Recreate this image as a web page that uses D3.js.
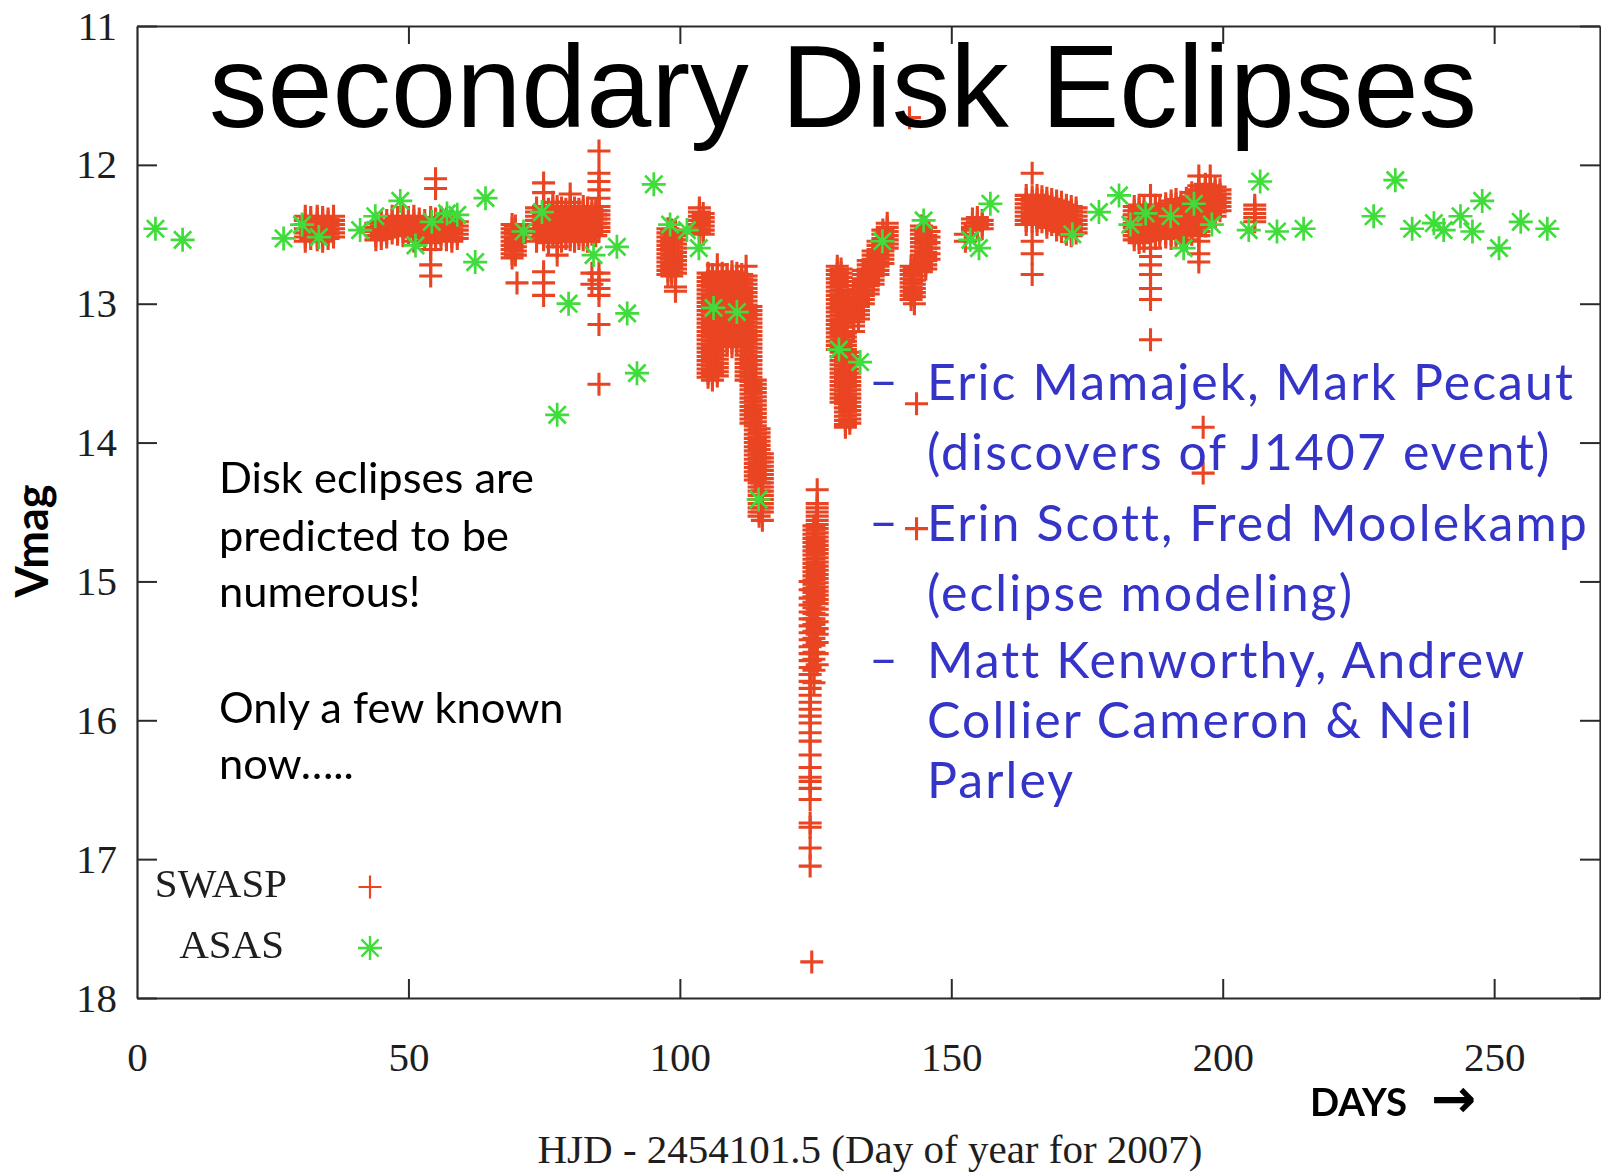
<!DOCTYPE html>
<html>
<head>
<meta charset="utf-8">
<script src="https://cdn.jsdelivr.net/npm/d3@7"></script>
<style>
  html, body { margin: 0; padding: 0; background: #fff; }
  svg { display: block; }
</style>
</head>
<body>
<svg id="chart" width="1601" height="1172"></svg>
<script>
// ---- axis ticks ----
const xTicks = [0, 50, 100, 150, 200, 250];
const yTicks = [11, 12, 13, 14, 15, 16, 17, 18];

// ---- ASAS photometry (day, V magnitude) ----
const asasDay = [3.4, 8.4, 27.0, 30.4, 33.5, 41.1, 43.9, 48.5, 51.3, 54.3, 57.1, 59.0, 62.3, 64.2,
  71.2, 74.6, 77.4, 79.5, 84.1, 88.4, 90.3, 92.1, 95.2, 98.2, 101.3, 103.5, 106.2, 110.5, 114.5,
  129.3, 133.2, 137.3, 144.9, 153.5, 155.1, 157.2, 172.3, 177.2, 180.9, 183.0, 185.8, 190.4,
  192.8, 194.7, 198.0, 204.8, 206.9, 210.0, 214.9, 227.8, 231.8, 234.9, 238.9, 240.7, 243.8,
  246.0, 247.8, 250.9, 254.9, 259.8];
const asasMag = [12.46, 12.54, 12.53, 12.43, 12.52, 12.47, 12.37, 12.26, 12.58, 12.41, 12.35, 12.36, 12.70, 12.24,
  12.48, 12.34, 13.80, 13.00, 12.65, 12.59, 13.07, 13.50, 12.14, 12.43, 12.47, 12.60, 13.03, 13.06, 14.41,
  13.33, 13.42, 12.55, 12.40, 12.54, 12.60, 12.28, 12.50, 12.34, 12.22, 12.43, 12.35, 12.37,
  12.60, 12.28, 12.43, 12.47, 12.12, 12.48, 12.46, 12.37, 12.11, 12.46, 12.42, 12.47, 12.37,
  12.48, 12.26, 12.60, 12.41, 12.46];

// ---- SWASP photometry: night (day) and the magnitudes measured that night ----
const swaspNight = [
  31.0, 32.0, 33.2, 34.2, 35.2, 36.2,
  44.0, 45.0, 46.0, 47.0, 48.0, 49.0, 50.0, 51.0, 52.0, 53.0, 54.1, 55.0, 56.0, 57.0, 58.0, 59.0,
  69.1, 69.7, 70.0,
  73.6, 74.9, 75.8, 76.6, 77.4, 78.2, 79.0, 79.8, 80.6, 81.4, 82.2, 83.0, 83.8, 84.5, 85.1,
  97.8, 98.5, 99.2, 103.6, 104.3,
  105.2, 106.0, 106.9, 107.8, 108.7, 109.6, 110.5, 111.4, 112.2, 113.1, 113.9, 114.6, 115.2,
  124.0, 124.3, 124.7, 125.3,
  129.0, 129.7, 130.5, 131.3,
  132.0, 132.9, 133.8, 134.7, 135.6, 136.5, 137.4, 138.2,
  142.3, 142.6, 143.2, 143.6, 144.5, 145.3, 145.9,
  152.6, 153.9, 154.8, 155.7,
  163.8, 164.9, 165.8, 166.7, 167.6, 168.5, 169.4, 170.3, 171.2, 172.1, 173.0,
  183.7, 184.6, 185.5, 186.7, 187.6, 188.4, 189.5, 190.5, 191.4, 192.3, 193.3, 194.3,
  195.6, 196.4, 196.8, 197.7, 198.6, 199.5,
  205.9
];
const swaspMag = [
  [12.37, 12.40, 12.43, 12.46, 12.49, 12.52, 12.55],
  [12.38, 12.41, 12.44, 12.47, 12.50, 12.53],
  [12.37, 12.39, 12.42, 12.45, 12.48, 12.51, 12.54],
  [12.38, 12.40, 12.43, 12.46, 12.49, 12.52, 12.55],
  [12.39, 12.41, 12.44, 12.47, 12.50, 12.53],
  [12.37, 12.40, 12.43, 12.46, 12.49, 12.52],

  [12.42, 12.45, 12.48, 12.51, 12.54],
  [12.41, 12.44, 12.47, 12.50, 12.53],
  [12.40, 12.43, 12.46, 12.49, 12.52],
  [12.37, 12.40, 12.43, 12.46, 12.49],
  [12.38, 12.41, 12.44, 12.47, 12.50],
  [12.37, 12.39, 12.42, 12.45, 12.48, 12.51],
  [12.38, 12.41, 12.44, 12.47, 12.50],
  [12.37, 12.40, 12.43, 12.46, 12.49, 12.52, 12.55],
  [12.39, 12.42, 12.45, 12.48, 12.51],
  [12.40, 12.43, 12.46, 12.49, 12.52],
  [12.38, 12.41, 12.44, 12.47, 12.50, 12.53, 12.56, 12.61, 12.72, 12.80],
  [12.10, 12.17, 12.39, 12.42, 12.45, 12.48, 12.51, 12.54],
  [12.38, 12.41, 12.44, 12.47, 12.50, 12.53],
  [12.39, 12.42, 12.45, 12.48, 12.51, 12.54],
  [12.40, 12.43, 12.46, 12.49, 12.52, 12.55],
  [12.41, 12.44, 12.47, 12.50, 12.53],

  [12.43, 12.46, 12.49, 12.52, 12.55, 12.58, 12.61, 12.64, 12.67],
  [12.44, 12.47, 12.50, 12.53, 12.56, 12.59, 12.62, 12.65],
  [12.85],

  [12.31, 12.34, 12.37, 12.40, 12.43, 12.46, 12.49, 12.52, 12.55],
  [12.13, 12.20, 12.30, 12.33, 12.36, 12.39, 12.42, 12.45, 12.48, 12.51, 12.54, 12.77, 12.85, 12.94],
  [12.32, 12.35, 12.38, 12.41, 12.44, 12.47, 12.50, 12.53, 12.56],
  [12.27, 12.31, 12.34, 12.37, 12.40, 12.43, 12.46, 12.49, 12.52],
  [12.30, 12.33, 12.36, 12.39, 12.42, 12.45, 12.48, 12.51, 12.54, 12.59, 12.65],
  [12.31, 12.34, 12.37, 12.40, 12.43, 12.46, 12.49, 12.52, 12.55],
  [12.32, 12.35, 12.38, 12.41, 12.44, 12.47, 12.50, 12.53],
  [12.21, 12.27, 12.30, 12.33, 12.36, 12.39, 12.42, 12.45, 12.48, 12.51, 12.54],
  [12.31, 12.34, 12.37, 12.40, 12.43, 12.46, 12.49, 12.52, 12.55],
  [12.32, 12.35, 12.38, 12.41, 12.44, 12.47, 12.50, 12.53],
  [12.30, 12.33, 12.36, 12.39, 12.42, 12.45, 12.48, 12.51, 12.54],
  [12.31, 12.34, 12.37, 12.40, 12.43, 12.46, 12.49, 12.52, 12.55],
  [12.32, 12.35, 12.38, 12.41, 12.44, 12.47, 12.50, 12.78, 12.86],
  [12.33, 12.36, 12.39, 12.42, 12.45, 12.48, 12.51],
  [11.90, 12.06, 12.12, 12.18, 12.24, 12.30, 12.33, 12.36, 12.39, 12.42, 12.45, 12.48, 12.78, 12.83, 12.89, 12.94, 13.15, 13.58],

  [12.46, 12.49, 12.52, 12.55, 12.58, 12.61, 12.64, 12.67, 12.70, 12.73, 12.76, 12.79],
  [12.47, 12.50, 12.53, 12.56, 12.59, 12.62, 12.65, 12.68, 12.71, 12.74, 12.77, 12.80],
  [12.48, 12.51, 12.54, 12.57, 12.60, 12.63, 12.66, 12.69, 12.72, 12.75, 12.78, 12.88, 12.91],
  [12.31, 12.34, 12.37, 12.40, 12.43, 12.46, 12.49],
  [12.35, 12.38, 12.41, 12.44, 12.47, 12.50],

  [12.78, 12.81, 12.84, 12.87, 12.90, 12.93, 12.96, 12.99, 13.02, 13.05, 13.08, 13.11, 13.14, 13.17, 13.20, 13.23, 13.26, 13.29, 13.32, 13.35, 13.38, 13.41, 13.44, 13.47, 13.50, 13.53],
  [12.79, 12.82, 12.85, 12.88, 12.91, 12.94, 12.97, 13.00, 13.03, 13.06, 13.09, 13.12, 13.15, 13.18, 13.21, 13.24, 13.27, 13.30, 13.33, 13.36, 13.39, 13.42, 13.45, 13.48, 13.51, 13.55],
  [12.72, 12.77, 12.80, 12.83, 12.86, 12.89, 12.92, 12.95, 12.98, 13.01, 13.04, 13.07, 13.10, 13.13, 13.16, 13.19, 13.22, 13.25, 13.28, 13.31, 13.34, 13.37, 13.40, 13.43, 13.46, 13.49, 13.52],
  [12.78, 12.81, 12.84, 12.87, 12.90, 12.93, 12.96, 12.99, 13.02, 13.05, 13.08, 13.11, 13.14, 13.17, 13.20, 13.23, 13.26, 13.29],
  [12.79, 12.82, 12.85, 12.88, 12.91, 12.94, 12.97, 13.00, 13.03, 13.06, 13.09, 13.12, 13.15, 13.18, 13.21, 13.24, 13.27, 13.30],
  [12.77, 12.80, 12.83, 12.86, 12.89, 12.92, 12.95, 12.98, 13.01, 13.04, 13.07, 13.10, 13.13, 13.16, 13.19, 13.22, 13.25, 13.28, 13.31],
  [12.78, 12.81, 12.84, 12.87, 12.90, 12.93, 12.96, 12.99, 13.02, 13.05, 13.08, 13.11, 13.14, 13.17, 13.20, 13.23, 13.26, 13.29],
  [12.79, 12.82, 12.85, 12.88, 12.91, 12.94, 12.97, 13.00, 13.03, 13.06, 13.09, 13.12, 13.15, 13.18, 13.21, 13.24, 13.27, 13.30],
  [12.73, 12.80, 12.83, 12.86, 12.89, 12.92, 12.95, 12.98, 13.01, 13.04, 13.07, 13.10, 13.13, 13.16, 13.19, 13.22, 13.25, 13.28, 13.31, 13.34, 13.37, 13.40, 13.43, 13.46, 13.49, 13.52, 13.55],
  [13.02, 13.05, 13.08, 13.11, 13.14, 13.17, 13.20, 13.23, 13.26, 13.29, 13.32, 13.35, 13.38, 13.41, 13.44, 13.47, 13.50, 13.53, 13.56, 13.59, 13.62, 13.65, 13.68, 13.71, 13.74, 13.77, 13.80, 13.83, 13.86],
  [13.55, 13.58, 13.61, 13.64, 13.67, 13.70, 13.73, 13.76, 13.79, 13.82, 13.85, 13.88, 13.91, 13.94, 13.97, 14.00, 14.03, 14.06, 14.09, 14.12, 14.15, 14.18, 14.21, 14.24, 14.27],
  [13.90, 13.93, 13.96, 13.99, 14.02, 14.05, 14.08, 14.11, 14.14, 14.17, 14.20, 14.23, 14.26, 14.29, 14.32, 14.35, 14.38, 14.41, 14.44, 14.47, 14.50, 14.53],
  [14.08, 14.11, 14.14, 14.17, 14.20, 14.23, 14.26, 14.29, 14.32, 14.35, 14.38, 14.41, 14.44, 14.47, 14.50, 14.56],

  [15.00, 15.06, 15.12, 15.17, 15.22, 15.27, 15.32, 15.37, 15.42, 15.47, 15.52, 15.57, 15.62, 15.67, 15.72, 15.77, 15.82, 15.87, 15.92, 15.97, 16.02, 16.09, 16.15, 16.25, 16.34, 16.41, 16.44, 16.49, 16.57, 16.74, 16.77, 16.92, 17.05],
  [17.74],
  [14.60, 14.63, 14.66, 14.69, 14.72, 14.75, 14.78, 14.81, 14.84, 14.87, 14.90, 14.93, 14.96, 14.99, 15.02, 15.05, 15.08, 15.11, 15.15, 15.19, 15.23, 15.27, 15.31, 15.36, 15.41, 15.46, 15.51, 15.56, 15.64, 15.73],
  [14.34, 14.44, 14.47, 14.50, 14.53, 14.56, 14.59, 14.62, 14.65, 14.68, 14.71, 14.74, 14.77, 14.80, 14.83, 14.86, 14.89, 14.92, 14.95, 14.98, 15.01, 15.04, 15.07, 15.10, 15.13, 15.16, 15.20, 15.24, 15.29, 15.34, 15.38, 15.44, 15.52, 15.60],

  [12.73, 12.76, 12.79, 12.82, 12.85, 12.88, 12.91, 12.94, 12.97, 13.00, 13.03, 13.06, 13.09, 13.12, 13.15, 13.18, 13.21, 13.24, 13.27, 13.30, 13.33],
  [12.75, 12.78, 12.81, 12.84, 12.87, 12.90, 12.93, 12.96, 12.99, 13.02, 13.05, 13.08, 13.11, 13.14, 13.17, 13.20, 13.23, 13.26, 13.29, 13.32, 13.35, 13.38, 13.41, 13.44, 13.47, 13.50, 13.53, 13.56, 13.59, 13.62, 13.65, 13.68, 13.71],
  [13.21, 13.24, 13.27, 13.30, 13.33, 13.36, 13.39, 13.42, 13.45, 13.48, 13.51, 13.54, 13.57, 13.60, 13.63, 13.66, 13.69, 13.72, 13.75, 13.78, 13.81, 13.84, 13.87, 13.89],
  [13.35, 13.38, 13.41, 13.44, 13.47, 13.50, 13.53, 13.56, 13.59, 13.62, 13.65, 13.68, 13.71, 13.74, 13.77, 13.80, 13.83, 13.86],

  [12.92, 12.95, 12.98, 13.01, 13.04, 13.07, 13.10, 13.13, 13.16, 13.20],
  [12.84, 12.87, 12.90, 12.93, 12.96, 12.99, 13.02, 13.05, 13.08, 13.11],
  [12.76, 12.79, 12.82, 12.85, 12.88, 12.91, 12.94, 12.97, 13.00],
  [12.69, 12.72, 12.75, 12.78, 12.81, 12.84, 12.87, 12.90, 12.93],
  [12.62, 12.65, 12.68, 12.71, 12.74, 12.77, 12.80, 12.83, 12.86],
  [12.55, 12.58, 12.61, 12.64, 12.67, 12.70, 12.73, 12.76, 12.79],
  [12.47, 12.50, 12.53, 12.56, 12.59, 12.62, 12.65, 12.68, 12.71],
  [12.42, 12.45, 12.48, 12.51, 12.54, 12.57, 12.60],

  [11.66],
  [12.73, 12.76, 12.79, 12.82, 12.85, 12.88, 12.91, 12.94, 12.97],
  [12.74, 12.77, 12.80, 12.83, 12.86, 12.89, 12.92, 12.95, 13.00],
  [13.72, 14.62],
  [12.44, 12.47, 12.50, 12.53, 12.56, 12.59, 12.62, 12.65, 12.68, 12.71, 12.74, 12.77],
  [12.45, 12.48, 12.51, 12.54, 12.57, 12.60, 12.63, 12.66, 12.69, 12.72, 12.75],
  [12.48, 12.52, 12.56, 12.60, 12.64, 12.68],

  [12.50, 12.55],
  [12.39, 12.42, 12.45, 12.47],
  [12.38, 12.41, 12.44, 12.46],
  [12.40, 12.43, 12.46],

  [12.22, 12.25, 12.28, 12.31, 12.34, 12.37, 12.40, 12.43],
  [12.06, 12.23, 12.26, 12.29, 12.32, 12.35, 12.38, 12.41, 12.55, 12.64, 12.79],
  [12.22, 12.25, 12.28, 12.31, 12.34, 12.37, 12.40, 12.43],
  [12.23, 12.26, 12.29, 12.32, 12.35, 12.38, 12.41],
  [12.24, 12.27, 12.30, 12.33, 12.36, 12.39, 12.42, 12.45],
  [12.25, 12.28, 12.31, 12.34, 12.37, 12.40, 12.43],
  [12.26, 12.29, 12.32, 12.35, 12.38, 12.41, 12.44, 12.47],
  [12.27, 12.30, 12.33, 12.36, 12.39, 12.42, 12.45, 12.48],
  [12.29, 12.32, 12.35, 12.38, 12.41, 12.44, 12.47, 12.50],
  [12.30, 12.33, 12.36, 12.39, 12.42, 12.45, 12.48, 12.51],
  [12.31, 12.34, 12.37, 12.40, 12.43, 12.46, 12.49],

  [12.30, 12.33, 12.36, 12.39, 12.42, 12.45, 12.48, 12.51, 12.54],
  [12.29, 12.32, 12.35, 12.38, 12.41, 12.44, 12.47, 12.50, 12.53, 12.56],
  [12.31, 12.34, 12.37, 12.40, 12.43, 12.46, 12.49, 12.52, 12.55],
  [12.22, 12.30, 12.33, 12.36, 12.39, 12.42, 12.45, 12.48, 12.51, 12.54, 12.60, 12.66, 12.72, 12.79, 12.89, 12.97, 13.26],
  [12.29, 12.32, 12.35, 12.38, 12.41, 12.44, 12.47, 12.50, 12.53],
  [12.31, 12.34, 12.37, 12.40, 12.43, 12.46, 12.49, 12.52],
  [12.28, 12.31, 12.34, 12.37, 12.40, 12.43, 12.46, 12.49, 12.52],
  [12.26, 12.29, 12.32, 12.35, 12.38, 12.41, 12.44, 12.47, 12.50, 12.53],
  [12.25, 12.28, 12.31, 12.34, 12.37, 12.40, 12.43, 12.46, 12.49, 12.52],
  [12.27, 12.30, 12.33, 12.36, 12.39, 12.42, 12.45, 12.48, 12.51],
  [12.24, 12.27, 12.30, 12.33, 12.36, 12.39, 12.42, 12.45, 12.48, 12.51, 12.54],
  [12.20, 12.23, 12.26, 12.29, 12.32, 12.35, 12.38, 12.41, 12.44, 12.47, 12.50],
  [12.08, 12.15, 12.18, 12.21, 12.24, 12.27, 12.30, 12.33, 12.36, 12.39, 12.42, 12.45, 12.48, 12.51, 12.55, 12.64, 12.70],
  [13.89, 14.22],
  [12.14, 12.17, 12.20, 12.23, 12.26, 12.29, 12.32, 12.35, 12.38, 12.41, 12.44],
  [12.08, 12.15, 12.18, 12.21, 12.24, 12.27, 12.30, 12.33, 12.36],
  [12.16, 12.19, 12.22, 12.25, 12.28, 12.31, 12.34, 12.37],
  [12.18, 12.21, 12.24, 12.27, 12.30, 12.33],

  [12.29, 12.32, 12.35, 12.38, 12.41]
];

// ---- slide text ----
const titleText = "secondary Disk Eclipses";
const noteLines = ["Disk eclipses are", "predicted to be", "numerous!", "", "Only a few known", "now….."];
const creditLines = [
  { dash: true,  text: "Eric Mamajek, Mark Pecaut" },
  { dash: false, text: "(discovers of J1407 event)" },
  { dash: true,  text: "Erin Scott, Fred Moolekamp" },
  { dash: false, text: "(eclipse modeling)" },
  { dash: true,  text: "Matt Kenworthy,  Andrew" },
  { dash: false, text: "Collier Cameron & Neil" },
  { dash: false, text: "Parley" }
];
const seriesNames = ["SWASP", "ASAS"];

// ---- scales ----
const svg = d3.select("#chart");
const x = d3.scaleLinear().domain([0, 269.5]).range([137, 1600]);
const y = d3.scaleLinear().domain([11, 18]).range([26, 998]);

const RED = "#ea4421";
const GREEN = "#3fdc3a";
const BLUE = "#3434c8";
const SERIF = "'Liberation Serif', 'Times New Roman', serif";
const SANS = "Lato, 'Open Sans', sans-serif";

// soft edge for the photometry marks
const defs = svg.append("defs");
defs.append("filter").attr("id", "soft").attr("x", "-5%").attr("y", "-5%").attr("width", "110%").attr("height", "110%")
  .append("feGaussianBlur").attr("stdDeviation", 0.7);

// ---- marker symbols (gnuplot-style '+' and '*') ----
const plusType = {
  draw(ctx, size) {
    const r = Math.sqrt(size) / 2;
    ctx.moveTo(-r, 0); ctx.lineTo(r, 0);
    ctx.moveTo(0, -r); ctx.lineTo(0, r);
  }
};
const starType = {
  draw(ctx, size) {
    const r = Math.sqrt(size) / 2, q = r * 0.72;
    ctx.moveTo(-r, 0); ctx.lineTo(r, 0);
    ctx.moveTo(0, -r); ctx.lineTo(0, r);
    ctx.moveTo(-q, -q); ctx.lineTo(q, q);
    ctx.moveTo(-q, q); ctx.lineTo(q, -q);
  }
};
const plusPath = d3.symbol(plusType, 23 * 23)();
const starPath = d3.symbol(starType, 24 * 24)();

// ---- frame and axes ----
const axisG = svg.append("g").attr("class", "axes");

const leftAxis = d3.axisLeft(y).tickValues(yTicks).tickSizeInner(-20).tickSizeOuter(0).tickPadding(20)
  .tickFormat(d3.format("d"));
const bottomAxis = d3.axisBottom(x).tickValues(xTicks).tickSizeInner(-19).tickSizeOuter(0).tickPadding(44)
  .tickFormat(d3.format("d"));
const topAxis = d3.axisTop(x).tickValues(xTicks).tickSizeInner(-18).tickSizeOuter(0).tickFormat("");
const rightAxis = d3.axisRight(y).tickValues(yTicks).tickSizeInner(-20).tickSizeOuter(0).tickFormat("");

function styleAxis(g) {
  g.select(".domain").attr("stroke", "#2a2a2a").attr("stroke-width", 2.2);
  g.selectAll(".tick line").attr("stroke", "#2a2a2a").attr("stroke-width", 2);
  g.selectAll(".tick text").attr("fill", "#1e1e1e").attr("font-family", SERIF).attr("font-size", 41);
}
axisG.append("g").attr("transform", `translate(${x(0)},0)`).call(leftAxis).call(styleAxis);
axisG.append("g").attr("transform", `translate(0,${y(18)})`).call(bottomAxis).call(styleAxis);
axisG.append("g").attr("transform", `translate(0,${y(11)})`).call(topAxis).call(styleAxis);
axisG.append("g").attr("transform", `translate(${x(269.5)},0)`).call(rightAxis).call(styleAxis);
axisG.selectAll(".tick").filter(d => d === 0).select("line").remove();

// ---- data ----
const swaspPoints = swaspNight.flatMap((d, i) => swaspMag[i].map(m => ({ d, m })));
const asasPoints = asasDay.map((d, i) => ({ d, m: asasMag[i] }));

svg.append("g").attr("class", "swasp").attr("filter", "url(#soft)")
  .selectAll("path").data(swaspPoints).join("path")
  .attr("d", plusPath)
  .attr("transform", p => `translate(${x(p.d)},${y(p.m)})`)
  .attr("fill", "none").attr("stroke", RED).attr("stroke-width", 3.1);

svg.append("g").attr("class", "asas").attr("filter", "url(#soft)")
  .selectAll("path").data(asasPoints).join("path")
  .attr("d", starPath)
  .attr("transform", p => `translate(${x(p.d)},${y(p.m)})`)
  .attr("fill", "none").attr("stroke", GREEN).attr("stroke-width", 2.7);

// ---- key ----
const key = svg.append("g").attr("class", "key");
const keyRows = [
  { name: seriesNames[0], tx: 287, ty: 897, mx: 370, my: 887, path: plusPath, color: RED, sw: 2.2 },
  { name: seriesNames[1], tx: 284, ty: 958, mx: 370, my: 948, path: starPath, color: GREEN, sw: 2.4 }
];
keyRows.forEach(r => {
  key.append("text").attr("x", r.tx).attr("y", r.ty).attr("text-anchor", "end")
    .attr("font-family", SERIF).attr("font-size", 41).attr("fill", "#1e1e1e").text(r.name);
  key.append("path").attr("d", r.path).attr("transform", `translate(${r.mx},${r.my})`)
    .attr("fill", "none").attr("stroke", r.color).attr("stroke-width", r.sw);
});

// ---- axis titles ----
svg.append("text").attr("x", 870).attr("y", 1163).attr("text-anchor", "middle")
  .attr("font-family", SERIF).attr("font-size", 41).attr("fill", "#1e1e1e")
  .text("HJD - 2454101.5 (Day of year for 2007)");

svg.append("text").attr("transform", "translate(48,541) rotate(-90)").attr("text-anchor", "middle")
  .attr("font-family", SANS).attr("font-weight", 700).attr("font-size", 45).attr("fill", "#000")
  .text("Vmag");

// scale a text element's font so its rendered width equals the target width
function fitWidth(sel, target) {
  const w = sel.node().getComputedTextLength();
  const fs = parseFloat(sel.attr("font-size"));
  const nfs = fs * target / w;
  sel.attr("font-size", nfs);
  return nfs;
}

const days = svg.append("text").attr("x", 1310).attr("y", 1116)
  .attr("font-family", SANS).attr("font-weight", 700).attr("font-size", 38).attr("fill", "#000")
  .text("DAYS");
fitWidth(days, 97);
svg.append("text").attr("x", 1431).attr("y", 1117)
  .attr("font-family", "'DejaVu Sans', sans-serif").attr("font-weight", 700).attr("font-size", 54).attr("fill", "#000")
  .text("→");

// ---- slide title ----
const title = svg.append("text").attr("x", 209).attr("y", 127)
  .attr("font-family", "'Liberation Sans', Arial, sans-serif").attr("font-size", 117).attr("fill", "#000")
  .text(titleText);
fitWidth(title, 1268);

// ---- note on the left ----
const noteG = svg.append("g").attr("font-family", SANS).attr("fill", "#000");
const noteBase = [493, 551, 607, 0, 723, 779];
const probe = noteG.append("text").attr("x", 219).attr("y", noteBase[0]).attr("font-size", 40).text(noteLines[0]);
const noteSize = fitWidth(probe, 315);
probe.remove();
noteLines.forEach((t, i) => {
  if (!t) return;
  noteG.append("text").attr("x", 219).attr("y", noteBase[i]).attr("font-size", noteSize).text(t);
});

// ---- credits on the right: 50px type, tracked out to the column width ----
const credSize = 50;
const credG = svg.append("g").attr("font-family", SANS).attr("fill", BLUE).attr("font-size", credSize);
const credBase = [400, 470, 541, 611, 678, 738, 798];
const probe2 = credG.append("text").attr("x", 927).attr("y", credBase[0]).text(creditLines[0].text);
const credTrack = Math.max(0, (648 - probe2.node().getComputedTextLength()) / creditLines[0].text.length);
probe2.remove();
creditLines.forEach((c, i) => {
  if (c.dash) credG.append("text").attr("x", 869).attr("y", credBase[i] - 2).text("–");
  credG.append("text").attr("x", 927).attr("y", credBase[i]).attr("letter-spacing", credTrack).text(c.text);
});
</script>
</body>
</html>
